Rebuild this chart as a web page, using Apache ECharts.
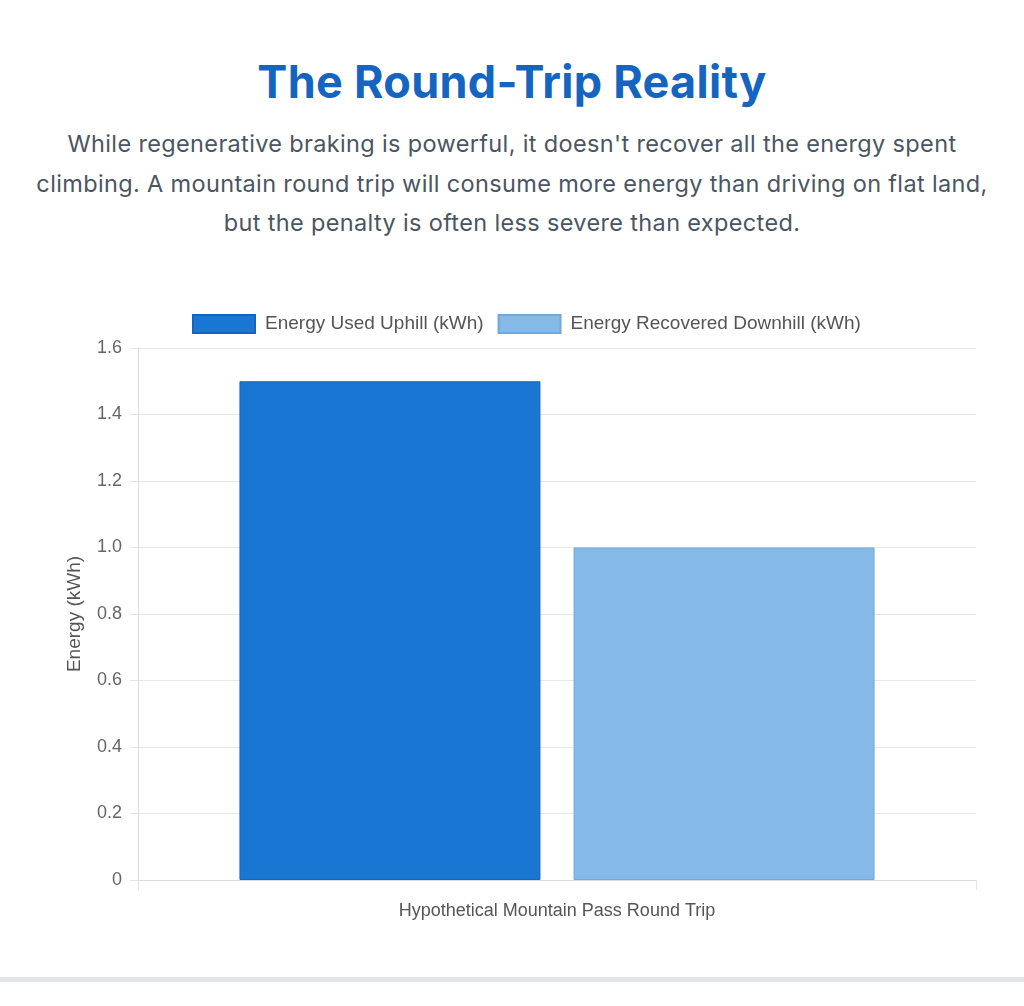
<!DOCTYPE html>
<html>
<head>
<meta charset="utf-8">
<script src="https://cdn.jsdelivr.net/npm/echarts@6/dist/echarts.min.js"></script>
<style>
  body { margin: 0; background: #fff; width: 1024px; height: 1006px; position: relative; overflow: hidden; }
  h2 { position: absolute; top: 52px; left: 0; width: 1024px; margin: 0; text-align: center;
       font-family: Inter, Roboto, sans-serif; font-weight: 700; font-size: 45px; letter-spacing: 0.3px;
       color: #1565C0; line-height: 60px; }
  p.sub { position: absolute; top: 124px; left: 0; width: 1024px; margin: 0; text-align: center;
          font-family: Inter, Roboto, sans-serif; font-size: 23.5px; letter-spacing: 0.35px;
          line-height: 39.5px; color: #4a5563; }
  #chart { position: absolute; top: 290px; left: 0; width: 1024px; height: 660px; }
  .rule { position: absolute; top: 977px; left: 0; width: 1024px; height: 5px; background: #e2e5e8; }
</style>
</head>
<body>
<h2>The Round-Trip Reality</h2>
<p class="sub">While regenerative braking is powerful, it doesn't recover all the energy spent<br>climbing. A mountain round trip will consume more energy than driving on flat land,<br>but the penalty is often less severe than expected.</p>
<div id="chart"></div>
<div class="rule"></div>
<script>
const categories = ['Hypothetical Mountain Pass Round Trip'];
const uphill = [1.5];
const downhill = [1.0];
const seriesNames = ['Energy Used Uphill (kWh)', 'Energy Recovered Downhill (kWh)'];

const chart = echarts.init(document.getElementById('chart'));
const font = '"Liberation Sans", Arial, sans-serif';
chart.setOption({
  animation: false,
  textStyle: { fontFamily: font },
  legend: {
    top: 19,
    left: 187,
    itemWidth: 62,
    itemHeight: 18,
    itemGap: 14,
    icon: 'rect',
    textStyle: { fontFamily: font, fontSize: 19, color: '#555', padding: [0, 0, 0, 5] }
  },
  grid: { left: 138, right: 48, top: 58, bottom: 70 },
  xAxis: {
    type: 'category',
    data: categories,
    axisLine: { lineStyle: { color: '#dcdcdc' } },
    axisTick: { show: true, length: 10, lineStyle: { color: '#e4e4e4' } },
    axisLabel: { fontFamily: font, fontSize: 18, color: '#555', margin: 22 }
  },
  yAxis: {
    type: 'value',
    min: 0,
    max: 1.6,
    interval: 0.2,
    name: 'Energy (kWh)',
    nameLocation: 'middle',
    nameGap: 54,
    nameTextStyle: { fontFamily: font, fontSize: 19, color: '#555' },
    axisLine: { show: true, lineStyle: { color: '#dcdcdc' } },
    axisTick: { show: true, length: 8, lineStyle: { color: '#e4e4e4' } },
    splitLine: { lineStyle: { color: '#e8e8e8' } },
    axisLabel: {
      fontFamily: font, fontSize: 18, color: '#666', margin: 16,
      formatter: v => (v === 0 ? '0' : v.toFixed(1))
    }
  },
  series: [
    {
      name: seriesNames[0],
      type: 'bar',
      data: uphill,
      barWidth: 301,
      barGap: '11%',
      itemStyle: { color: '#1976D2', borderColor: '#1565C0', borderWidth: 1 }
    },
    {
      name: seriesNames[1],
      type: 'bar',
      data: downhill,
      barWidth: 301,
      itemStyle: { color: '#85B9E7', borderColor: '#72A9DC', borderWidth: 1 }
    }
  ]
});
</script>
</body>
</html>
